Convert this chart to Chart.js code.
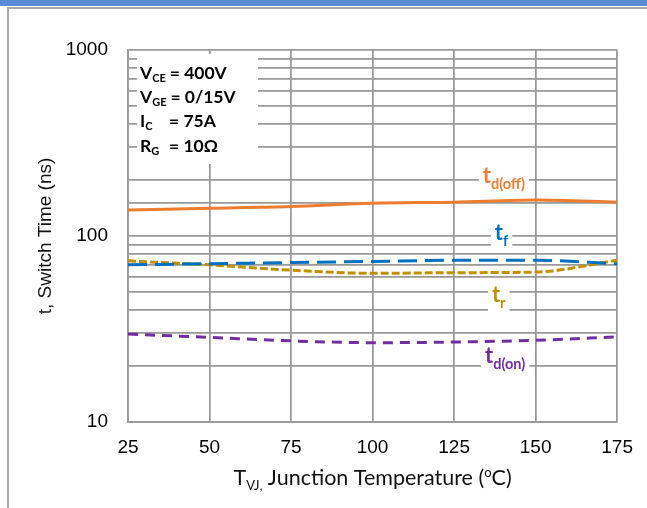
<!DOCTYPE html>
<html>
<head>
<meta charset="utf-8">
<script src="https://cdn.jsdelivr.net/npm/chart.js@4.4.1/dist/chart.umd.min.js"></script>
<style>
  html, body { margin: 0; padding: 0; background: #fff; }
  canvas { display: block; }
</style>
</head>
<body>
<canvas id="switchChart" width="647" height="508"></canvas>
<script>
// data
const temps = [25, 50, 75, 100, 125, 150, 175];
const tdOff = [138, 141, 144, 150, 152, 156, 152];
const tFall = [70, 71, 72, 73, 74, 74, 71];
const tRise = [73.5, 70, 65.5, 63, 63.5, 64, 74];
const tdOn = [29.7, 28.5, 27.3, 26.7, 26.9, 27.5, 28.7];
const yTickLabels = [10, 100, 1000];

// curve tags: [main, subscript, colour, temp, value]
const curveTags = [
  ["t", "d(off)", "#ED7D31", 133.8, 193],
  ["t", "f", "#0070C0", 137.5, 95],
  ["t", "r", "#BF9000", 136.6, 44],
  ["t", "d(on)", "#7030A0", 134.5, 20.8],
];

// test conditions box
const conditions = [
  ["V", "CE", "= 400V"],
  ["V", "GE", "= 0/15V"],
  ["I", "C", "= 75A"],
  ["R", "G", "= 10\u03A9"],
];

const GRID = "#999";
const SANS = "'Liberation Sans', Arial, sans-serif";
const CAL = "Lato, 'Open Sans', sans-serif";

// draws a run of text pieces, each with its own size / offset
function richText(ctx, parts, x, y, align) {
  let total = 0;
  parts.forEach(p => {
    ctx.font = `${p.bold ? "bold " : ""}${p.size}px ${p.family || CAL}`;
    p.w = ctx.measureText(p.t).width;
    total += p.w;
  });
  let cx = align === "center" ? x - total / 2 : x;
  const start = cx;
  parts.forEach(p => {
    ctx.font = `${p.bold ? "bold " : ""}${p.size}px ${p.family || CAL}`;
    ctx.fillText(p.t, cx, y + (p.dy || 0));
    cx += p.w;
  });
  return { x: start, w: total };
}

const decorPlugin = {
  id: "decor",
  beforeDraw(chart) {
    const ctx = chart.ctx;
    ctx.save();
    ctx.fillStyle = "#fff";
    ctx.fillRect(0, 0, chart.width, chart.height);
    // blue strip + page frame
    ctx.fillStyle = "#5B8BD6";
    ctx.fillRect(0, 0, chart.width, 6);
    ctx.strokeStyle = "#a9a9a9";
    ctx.lineWidth = 2;
    ctx.beginPath();
    ctx.moveTo(8, chart.height);
    ctx.lineTo(8, 8);
    ctx.lineTo(chart.width, 8);
    ctx.stroke();
    ctx.restore();
  },
  afterDraw(chart) {
    const ctx = chart.ctx;
    const xs = chart.scales.x, ys = chart.scales.y;
    const area = chart.chartArea;
    ctx.save();
    ctx.textBaseline = "alphabetic";

    // conditions box
    ctx.fillStyle = "#fff";
    ctx.fillRect(area.left + 9, area.top + 4, 121, 110);
    ctx.fillStyle = "#000";
    const eqX = [163, 165, 169, 169];
    conditions.forEach((c, i) => {
      const base = area.top + 29 + i * 24.2;
      const r = richText(ctx, [
        { t: c[0], size: 17.5, bold: true },
        { t: c[1], size: 11, bold: true, dy: 3 },
      ], area.left + 12, base, "left");
      ctx.font = `bold 17.5px ${CAL}`;
      ctx.fillText(c[2], Math.max(eqX[i], r.x + r.w + 4), base);
    });

    // curve tags
    curveTags.forEach(tag => {
      const px = xs.getPixelForValue(tag[3]);
      const py = ys.getPixelForValue(tag[4]);
      ctx.font = `bold 22px ${CAL}`;
      const w1 = ctx.measureText(tag[0]).width;
      ctx.font = `bold 14.5px ${CAL}`;
      const w2 = ctx.measureText(tag[1]).width;
      ctx.fillStyle = "#fff";
      ctx.fillRect(px - 4, py - 17, w1 + w2 + 8, 28);
      ctx.fillStyle = tag[2];
      richText(ctx, [
        { t: tag[0], size: 22, bold: true },
        { t: tag[1], size: 14.5, bold: true, dy: 6 },
      ], px, py, "left");
    });

    // x axis title with sub/superscript
    ctx.fillStyle = "#111";
    richText(ctx, [
      { t: "T", size: 21.5, family: CAL },
      { t: "VJ,", size: 13, family: CAL, dy: 5 },
      { t: " Junction Temperature (", size: 21.5, family: CAL },
      { t: "o", size: 13, family: CAL, dy: -8 },
      { t: "C)", size: 21.5, family: CAL },
    ], (area.left + area.right) / 2, 485, "center");
    ctx.restore();
  },
};

function series(values, color, dash, width) {
  return {
    data: values.map((v, i) => ({ x: temps[i], y: v })),
    borderColor: color,
    borderWidth: width,
    borderDash: dash,
    fill: false,
    tension: 0.4,
    cubicInterpolationMode: "monotone",
    pointRadius: 0,
  };
}

new Chart(document.getElementById("switchChart"), {
  type: "line",
  data: {
    datasets: [
      series(tdOff, "#ED7D31", [], 3),
      series(tFall, "#0070C0", [19, 8], 3),
      series(tRise, "#BF9000", [8, 3], 3),
      series(tdOn, "#7030A0", [10, 7], 3),
    ],
  },
  options: {
    responsive: false,
    animation: false,
    layout: { padding: { top: 50, right: 24, left: 30, bottom: 0 } },
    plugins: { legend: { display: false }, tooltip: { enabled: false } },
    scales: {
      x: {
        type: "linear",
        min: 25,
        max: 175,
        ticks: { stepSize: 25, color: "#000", font: { family: SANS, size: 19 }, padding: 14 },
        grid: { color: GRID, lineWidth: 1.75, drawTicks: false },
        border: { color: GRID, width: 1.75 },
        afterFit: s => { s.height = 86; },
      },
      y: {
        type: "logarithmic",
        min: 10,
        max: 1000,
        ticks: {
          autoSkip: false,
          color: "#000",
          font: { family: SANS, size: 19 },
          padding: 20,
          callback: v => yTickLabels.some(t => Math.abs(t - v) < 1e-6) ? String(v) : "",
        },
        grid: { color: GRID, lineWidth: 1.75, drawTicks: false },
        border: { color: GRID, width: 1.75 },
        title: { display: true, text: "t, Switch Time (ns)", color: "#111", font: { family: SANS, size: 19 } },
        afterFit: s => { s.width = 98; },
      },
    },
  },
  plugins: [decorPlugin],
});
</script>
</body>
</html>
